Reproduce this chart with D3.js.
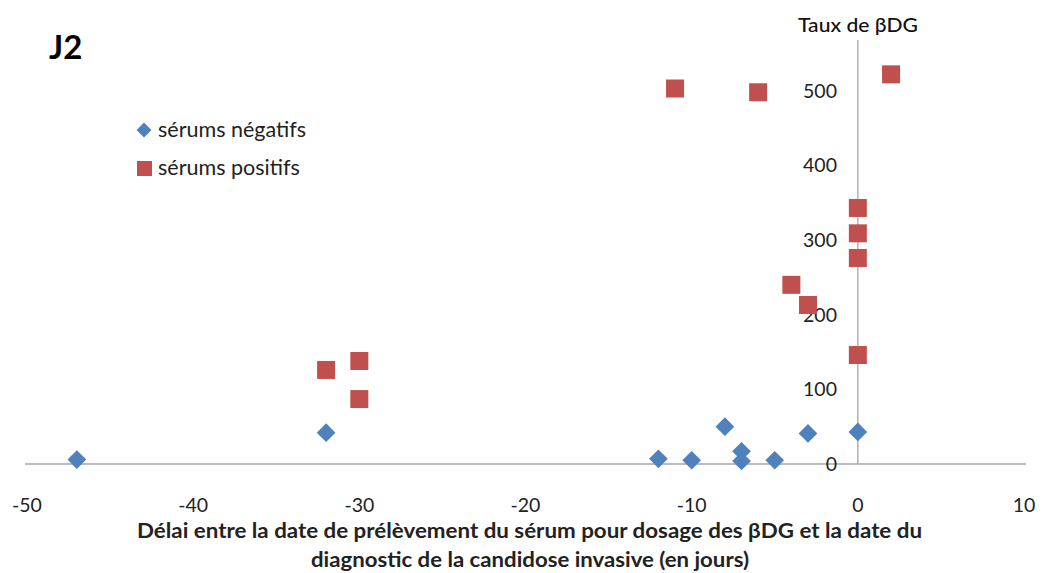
<!DOCTYPE html>
<html><head><meta charset="utf-8">
<script src="https://cdn.jsdelivr.net/npm/d3@7"></script>
<style>body{margin:0;background:#fff}svg{display:block}text{font-family:Lato,"Open Sans",sans-serif}</style>
</head><body>
<script>
const negX = [-47, -32, -12, -10, -8, -7, -7, -5, -3, 0];
const negY = [6, 42, 7, 5, 50, 17, 4, 5, 41, 43];
const posX = [-32, -30, -30, -11, -6, 2, 0, 0, 0, -4, -3, 0];
const posY = [126, 138, 87, 503, 498, 522, 343, 309, 276, 240, 213, 146];
const xTicks = [-50, -40, -30, -20, -10, 0, 10];
const yTicks = [0, 100, 200, 300, 400, 500];
const seriesNames = ["sérums négatifs", "sérums positifs"];
const blue = "#4F81BD", red = "#C0504D";

const W = 1042, H = 573;
const svg = d3.select("body").append("svg").attr("width", W).attr("height", H);
const x = d3.scaleLinear().domain([-50, 10]).range([27, 1024]);
const y = d3.scaleLinear().domain([0, 568]).range([464, 40]);

// axes lines
svg.append("line").attr("x1", 25).attr("x2", 1026).attr("y1", y(0)).attr("y2", y(0))
  .attr("stroke", "#A6A6A6").attr("stroke-width", 1.3);
svg.append("line").attr("x1", x(0)).attr("x2", x(0)).attr("y1", y(0)).attr("y2", y(568))
  .attr("stroke", "#A6A6A6").attr("stroke-width", 1.3);

// tick labels
svg.selectAll(".xt").data(xTicks).enter().append("text")
  .attr("x", d => x(d)).attr("y", 512).attr("text-anchor", "middle")
  .attr("font-size", 19.5).attr("fill", "#222").text(d => d);
svg.selectAll(".yt").data(yTicks).enter().append("text")
  .attr("x", 837).attr("y", d => y(d) + 7).attr("text-anchor", "end")
  .attr("font-size", 19.5).attr("fill", "#222").text(d => d);

// titles
svg.append("text").attr("x", 49).attr("y", 59).attr("font-size", 33).attr("font-weight", "bold").text("J2");
svg.append("text").attr("x", 798).attr("y", 32).attr("font-size", 19.5).attr("font-weight", 500).attr("fill", "#111")
  .attr("textLength", 120).attr("lengthAdjust", "spacingAndGlyphs").text("Taux de βDG");
svg.append("text").attr("x", 137).attr("y", 538).attr("font-size", 20).attr("font-weight", "bold").attr("fill", "#222")
  .attr("textLength", 785).attr("lengthAdjust", "spacingAndGlyphs")
  .text("Délai entre la date de prélèvement du sérum pour dosage des βDG et la date du");
svg.append("text").attr("x", 311).attr("y", 567).attr("font-size", 20).attr("font-weight", "bold").attr("fill", "#222")
  .attr("textLength", 438).attr("lengthAdjust", "spacingAndGlyphs")
  .text("diagnostic de la candidose invasive (en jours)");

// points
const negData = negX.map((v, i) => ({x: v, y: negY[i]}));
const posData = posX.map((v, i) => ({x: v, y: posY[i]}));
svg.selectAll(".sq").data(posData).enter().append("rect")
  .attr("x", d => x(d.x) - 9).attr("y", d => y(d.y) - 9).attr("width", 18).attr("height", 18)
  .attr("fill", red);
svg.selectAll(".dm").data(negData).enter().append("path")
  .attr("transform", d => `translate(${x(d.x)},${y(d.y)}) rotate(45)`)
  .attr("d", d3.symbol().type(d3.symbolSquare).size(175)()).attr("fill", blue);

// legend
svg.append("path").attr("transform", "translate(144,130) rotate(45)")
  .attr("d", d3.symbol().type(d3.symbolSquare).size(110)()).attr("fill", blue);
svg.append("rect").attr("x", 137).attr("y", 161).attr("width", 15).attr("height", 15).attr("fill", red);
svg.append("text").attr("x", 158).attr("y", 137).attr("font-size", 21.5).attr("fill", "#222").text(seriesNames[0]);
svg.append("text").attr("x", 158).attr("y", 175).attr("font-size", 21.5).attr("fill", "#222").text(seriesNames[1]);
</script>
</body></html>
